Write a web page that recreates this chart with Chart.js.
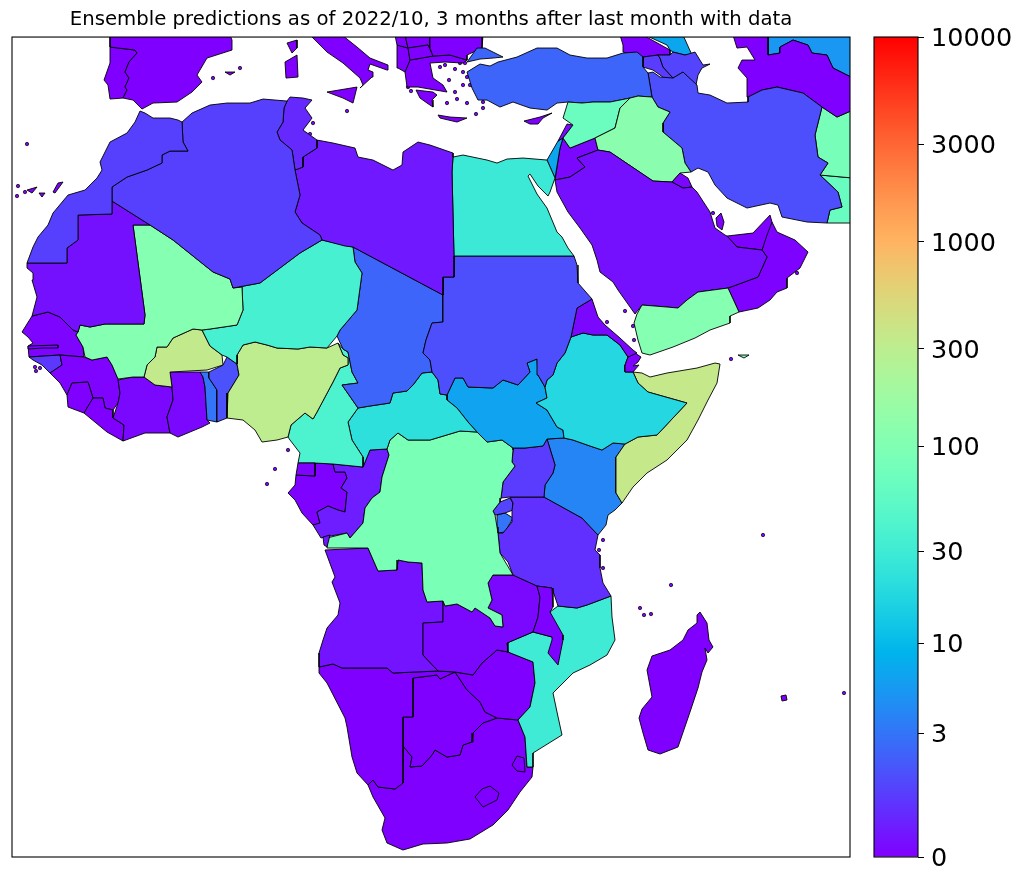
<!DOCTYPE html>
<html>
<head>
    <title>Ensemble predictions map</title>
    <script src="https://cdn.jsdelivr.net/npm/chart.js"></script>
    <style>
        html, body { margin: 0; padding: 0; background: #fff; }
        #mapChart { position: absolute; left: 0; top: 0; }
        #barChart { position: absolute; left: 862px; top: 0; }
    </style>
</head>
<body>
<canvas id="mapChart" width="862" height="885"></canvas>
<canvas id="barChart" width="162" height="885"></canvas>
<script>
// colour bar tick labels
const barTicks = [0, 3, 10, 30, 100, 300, 1000, 3000, 10000];

// country outlines, map units (about a degree each)
const morocco = [[-6.4,37.4],[-6.9,36.3],[-7.7,35.2],[-9.4,34.3],[-9.9,33.3],[-10.4,32.3],[-10.2,31.5],[-10.7,30.7],[-11.9,29.5],[-13.6,29],[-15.1,27.2],[-15.6,26],[-16.6,24.8],[-17.1,23.8],[-17.7,22.2],[-13.7,22.2],[-13.7,23.7],[-12.6,24.5],[-12.6,27],[-9.2,27.1],[-9.2,29.8],[-7.7,30.8],[-5.7,31.5],[-4.2,32.2],[-4.2,33],[-3.4,33.4],[-1.6,33.4],[-2.1,34.3],[-2.2,36.3],[-2.6,36.5],[-3.4,36.7],[-5.1,36.7],[-5.9,37.2],[-6.4,37.4]];
const algeria = [[-2.2,36.3],[-1.2,37.2],[.6,38],[2.3,38.2],[4.6,38.2],[5.9,38.6],[8.3,38.4],[8,37.7],[7.9,36.3],[7.3,35.3],[7.6,34.5],[8.8,33.5],[9.1,31.5],[9.6,29],[9.1,27.3],[9.8,26.2],[11.6,25],[11.8,24.5],[9.6,23.2],[5.6,20.2],[2.9,19.7],[2.6,20.6],[.9,21.3],[-3.1,24.5],[-5.4,26],[-9.2,28.4],[-9.2,29.8],[-7.7,30.8],[-5.7,31.5],[-4.2,32.2],[-4.2,33],[-3.4,33.4],[-1.6,33.4],[-2.1,34.3],[-2.2,36.3]];
const tunisia = [[8.3,38.4],[8.6,38.8],[9.9,38.7],[10.8,38.5],[10.1,37.7],[10.8,36.7],[9.9,35.5],[10.6,35],[11.3,34.5],[11.3,33.7],[9.9,32.8],[9.9,31.8],[9.1,31.5],[8.8,33.5],[7.6,34.5],[7.3,35.3],[7.9,36.3],[8,37.7],[8.3,38.4]];
const libya = [[11.3,34.5],[12.9,34.2],[15.1,33.7],[15.4,32.8],[16.9,32.5],[18.9,31.5],[19.8,32],[19.9,33.3],[21.4,34.3],[22.6,34],[24.9,33.2],[24.9,32.8],[24.8,31.3],[25,22.9],[25,20.8],[23.9,20.8],[23.9,19],[14.9,23.8],[14.1,23.9],[11.8,24.5],[11.6,25],[9.8,26.2],[9.1,27.3],[9.6,29],[9.1,31.5],[9.9,31.8],[9.9,32.8],[11.3,33.7],[11.3,34.5]];
const egypt = [[24.9,32.8],[25.9,33],[28.3,32.5],[29.3,32.2],[30.3,32.6],[31.9,32.7],[34.3,32.5],[35.1,30.7],[34.6,29.3],[34.4,28.9],[33.4,29.9],[32.6,31.1],[32.4,30.9],[33.3,29.1],[34.3,27.7],[35.3,25.3],[35.8,24.8],[36.4,23.7],[37,22.9],[25,22.9],[24.8,31.3],[24.9,32.8]];
const sudan = [[25,22.9],[37,22.9],[37.3,22],[37.4,20.2],[38.8,18.6],[37.3,17.7],[36.7,14.8],[36.1,13.2],[35.3,12.2],[34.9,11],[34.3,10.5],[34.1,9.8],[33.4,11],[33.3,12.6],[32.3,12.2],[32.6,11.3],[31.4,10],[29.9,10.5],[28.9,9.7],[26.4,9.8],[25.9,10.7],[25.1,10.7],[24.3,9],[23.6,9.1],[23.4,10.5],[22.8,11.3],[22.6,12.5],[21.9,13.2],[22.2,14.5],[22.8,16.2],[23.9,16.3],[23.9,20.8],[25,20.8],[25,22.9]];
const eritrea = [[38.8,18.6],[39.4,16.8],[40.1,16],[41.6,14.7],[42.9,13.5],[43.3,13.2],[42.4,12.8],[41.6,14],[40.3,15],[38.9,15],[37.9,15.2],[36.7,14.8],[37.3,17.7],[38.8,18.6]];
const djibouti = [[42.4,12.8],[43.1,13.2],[43.7,12.8],[43.4,12.3],[42.9,11.9],[43.5,12],[42.9,11.3],[42.1,11.3],[42.1,12],[42.4,12.8]];
const ethiopia = [[36.7,14.8],[37.9,15.2],[38.9,15],[40.3,15],[41.6,14],[42.4,12.8],[42.1,12],[42.1,11.3],[42.9,11.3],[43.4,10.2],[44.4,9.3],[48.3,8.2],[45.3,5],[43.4,4.8],[42.1,4.1],[40.9,4.2],[39.8,3.5],[38.6,3.9],[36.9,4.5],[36,4.7],[35.9,5.5],[35.3,5.8],[34.3,7.5],[33.2,8.2],[34.3,8.7],[34.1,9.8],[34.3,10.5],[34.9,11],[35.3,12.2],[36.1,13.2],[36.7,14.8]];
const somalia = [[42.9,11.3],[43.8,11.2],[44.6,10.8],[46.3,11.2],[49.3,11.7],[51.1,12.2],[51.6,12.1],[51.3,10.2],[50.4,8.5],[49.4,6.5],[48.3,4.5],[46.3,2.5],[44.3,1.2],[42.9,-.2],[41.8,-1.8],[41.2,-.8],[41.2,2.8],[42.1,4.1],[43.4,4.8],[45.3,5],[48.3,8.2],[44.4,9.3],[43.4,10.2],[42.9,11.3]];
const yemen = [[43.8,18],[46.3,17.8],[47.4,17.7],[48.3,18.5],[49.4,19.3],[52.4,19.7],[53.5,17.3],[52.6,16.9],[52.6,16.2],[50.6,15.5],[49.1,14.7],[46.9,13.8],[44.6,13],[43.8,13.2],[43.4,14.5],[43,16.2],[43.3,17.1],[43.8,18]];
const saudi = [[39.4,33.5],[40.6,33.3],[44.9,30.4],[46.8,30.3],[47.9,29.7],[48.8,29.8],[49.3,29.3],[50.6,27.3],[51.1,25.7],[52.1,25],[52.3,24.9],[53.3,23.8],[55.8,23.5],[56.3,22.8],[55.4,20.8],[52.4,19.7],[49.4,19.3],[48.3,18.5],[47.4,17.7],[46.3,17.8],[43.8,18],[43.1,17.1],[41.4,19.5],[40.9,20.3],[39.6,21.3],[39.3,22.5],[38.8,24],[37.6,25.7],[36.4,27.3],[35.3,29.3],[35.1,30.5],[36.6,30.8],[38.1,31.8],[37.3,32.7],[39.4,33.5]];
const uae = [[52.3,24.9],[54.9,25.2],[56.6,27],[56.8,26.3],[56.3,25],[55.9,23.8],[55.8,23.5],[53.3,23.8],[52.3,24.9]];
const oman = [[56.3,25.5],[56.8,26.3],[57.3,25.3],[59.1,24.5],[60.4,23.3],[59.6,21.7],[58.3,20.7],[58.3,19.7],[57.3,19.3],[56.6,18.5],[55.4,17.7],[53.5,17.3],[52.4,19.7],[55.4,20.8],[56.3,22.8],[55.8,23.5],[55.9,23.8],[56.3,25.5]];
const qatar = [[51.2,26.7],[51.7,27.2],[52,26.3],[51.8,25.5],[51.3,25.9],[51.2,26.7]];
const kuwait = [[46.8,30.3],[47.6,31.2],[48.4,30.7],[48.8,29.8],[47.9,29.7],[46.8,30.3]];
const iraq = [[39.1,34.7],[41.1,35.7],[41.6,37.7],[42.6,38.7],[43.4,38.9],[44.8,38.8],[45.4,37.8],[46.6,37.3],[45.9,36.2],[45.9,35.3],[47.8,33.7],[48.1,32.2],[48.7,31.3],[47.6,31.2],[46.8,30.3],[44.9,30.4],[40.6,33.3],[39.4,33.5],[39.1,34.7]];
const syria = [[36.4,38.3],[37.8,38.2],[38.9,38.3],[40.6,38.3],[42.6,38.7],[41.6,37.7],[41.1,35.7],[39.1,34.7],[36.6,33.7],[35.9,34.7],[36.9,36],[35.9,36.7],[36.4,38.3]];
const lebanon = [[36.3,36.1],[36.9,36],[35.9,34.7],[35.4,34.4],[36.3,36.1]];
const israel = [[34.3,32.5],[35.4,34.4],[35.9,34.7],[35.6,33.7],[35.1,30.7],[34.3,32.5]];
const jordan = [[35.9,34.7],[36.6,33.7],[39.1,34.7],[39.4,33.5],[37.3,32.7],[38.1,31.8],[36.6,30.8],[35.1,30.5],[35.6,33.7],[35.9,34.7]];
const anatolia = [[29.4,42.3],[31.3,42.8],[33.3,43.7],[35.3,43.7],[36.6,43],[38.3,42.7],[40.3,42.7],[41.9,43.2],[43.3,43.3],[43.9,42.8],[43.9,41.8],[44.4,41.2],[44.8,38.8],[43.4,38.9],[42.6,38.7],[40.6,38.3],[38.9,38.3],[37.8,38.2],[36.4,38.3],[35.3,38.2],[34.3,37.5],[32.6,37.7],[30.9,38.3],[29.6,37.8],[28.3,38.5],[27.4,38.5],[26.8,39.7],[26.3,41.3],[27.6,42.1],[28.6,41.9],[29.4,42.3]];
const thrace = [[26.3,42.3],[27.3,43.7],[28.1,43.7],[29.9,42.8],[28.9,42.7],[27.6,42.6],[26.3,42.3]];
const iran = [[44.4,41.2],[44.8,38.8],[45.4,37.8],[46.6,37.3],[45.9,36.2],[45.9,35.3],[47.8,33.7],[48.1,32.2],[48.7,31.3],[49.4,31.7],[50.4,31.3],[51.1,30],[52.3,28.7],[54.3,27.7],[56.6,28.2],[57.4,28],[57.8,26.8],[60.3,26.3],[62.3,26.2],[62.6,27.5],[63.8,27.8],[63.4,29.3],[61.6,31],[62.4,32.2],[61.4,32.8],[61.1,35],[61.8,37.8],[59.9,39.2],[57.3,39.8],[55.8,39.5],[54.4,38.8],[54.4,38.3],[52.3,38.2],[50.6,39],[49.4,39.2],[49.3,40],[47.9,41.3],[46.9,40.7],[45.6,40.8],[44.9,41.3],[44.4,41.2]];
const azerbaijan = [[45.4,43],[46.6,43],[46.9,43.3],[48.1,43],[49.1,43.3],[49.9,42],[50.6,42.1],[49.8,41.7],[49.4,41],[49.2,40],[47.9,41.3],[46.9,40.7],[45.9,41.8],[45.6,42.7],[45.4,43]];
const armenia = [[43.9,42.8],[45.4,43],[45.6,42.7],[45.9,41.8],[46.9,40.7],[46.3,40.5],[44.9,41.5],[43.9,41.8],[43.9,42.8]];
const georgia = [[41.6,45],[43.9,45],[46.6,43.5],[46.6,43],[45.4,43],[43.9,42.8],[41.9,43.3],[41.9,44],[41.6,45]];
const russia = [[44.1,45],[47.9,45],[48.8,43],[48.1,43],[46.9,43.3],[46.6,43.5],[46.3,44],[44.1,45]];
const turkmenistan = [[52.9,45],[56.4,45],[56.4,43],[57.6,43.2],[57.6,43.8],[58.9,44.5],[60.4,44],[60.8,43.2],[62.3,43],[62.9,41.7],[64.9,40.7],[64.9,37.5],[63.3,36.8],[61.8,37.8],[59.9,39.2],[57.3,39.8],[55.8,39.5],[54.4,38.8],[54.3,40.7],[53.4,41.7],[53.8,42.5],[55.1,42.5],[54.3,43.8],[53.3,43.7],[52.9,45]];
const kazakhstan = [[56.4,45],[64.9,45],[64.9,40.7],[62.9,41.7],[62.3,43],[60.8,43.2],[60.4,44],[58.9,44.5],[57.6,43.8],[57.6,43.2],[56.4,43],[56.4,45]];
const afghanistan = [[61.8,37.8],[63.3,36.8],[64.9,37.5],[64.9,30.7],[61.6,31],[62.4,32.2],[61.4,32.8],[61.1,35],[61.8,37.8]];
const pakistan = [[61.6,31],[64.9,30.7],[64.9,26.2],[62.3,26.2],[62.6,27.5],[63.8,27.8],[63.4,29.3],[61.6,31]];
const mauritania = [[-17.7,22.2],[-13.7,22.2],[-13.7,23.7],[-12.6,24.5],[-12.6,27],[-9.2,27.1],[-9.2,28.4],[-5.4,26],[-7.1,26],[-6.9,24.5],[-5.9,17],[-6,16.1],[-9.9,16.1],[-11.4,15.8],[-12.4,16],[-12.6,15.3],[-13.1,15.5],[-14.4,16.8],[-15.6,17.3],[-17.2,16.9],[-16.7,18.8],[-17.2,20.5],[-17.1,21.2],[-17.7,21.7],[-17.7,22.2]];
const mali = [[-7.1,26],[-5.4,26],[-3.1,24.5],[.9,21.3],[2.6,20.6],[2.9,19.7],[3.8,19.8],[3.9,17.5],[3.3,16],[.6,15.6],[-.2,15.5],[-1.1,15.6],[-3.1,14.7],[-3.7,13.8],[-4.7,13.8],[-4.9,12.8],[-5.7,12],[-6,10.8],[-7.1,10.8],[-8.6,10.6],[-9.2,12],[-9.7,12.8],[-11.2,12.5],[-11.9,12.8],[-12.1,13.8],[-12.8,15],[-12.6,15.3],[-12.4,16],[-11.4,15.8],[-9.9,16.1],[-6,16.1],[-5.9,17],[-6.9,24.5],[-7.1,26]];
const niger = [[11.8,24.5],[14.9,23.8],[15.1,22.3],[15.8,21.2],[15.3,17.5],[13.6,15.5],[13.3,14.9],[12.3,13.7],[10.6,13.8],[9.4,13.6],[7.3,13.7],[6.3,14],[5.1,14.3],[3.9,14],[3.3,13],[3.3,12.1],[2.3,12.8],[1.8,13],[.6,13.9],[-.2,15.5],[.6,15.6],[3.3,16],[3.9,17.5],[3.8,19.8],[2.9,19.7],[5.6,20.2],[9.6,23.2],[11.8,24.5]];
const nigeria = [[3.3,12.1],[3.5,11],[2.4,9.2],[2.3,6.7],[3.9,6.5],[5.1,5.5],[5.8,4.3],[7.3,4.5],[8.4,4.8],[8.7,6],[10.1,7.2],[10.9,6.6],[11.3,7.3],[12.1,8.8],[12.9,10.3],[13.6,11.7],[14.4,12],[14.4,12.7],[13.9,13],[13.4,14.2],[12.3,13.7],[10.6,13.8],[9.4,13.6],[7.3,13.7],[6.3,14],[5.1,14.3],[3.9,14],[3.3,13],[3.3,12.1]];
const chad = [[14.9,23.8],[23.9,19],[23.9,16.3],[22.8,16.2],[22.2,14.5],[21.9,13.2],[22.6,12.5],[22.8,11.3],[21.8,11.2],[20.9,10],[20.3,9.4],[18.9,9.2],[18.6,8.2],[16.6,7.9],[15.4,7.7],[13.8,10],[15.4,10.2],[14.8,11.3],[14.4,13.3],[13.9,13.6],[13.3,14.9],[13.6,15.5],[15.3,17.5],[15.8,21.2],[15.1,22.3],[14.9,23.8]];
const cameroon = [[13.4,14.2],[13.9,13.6],[14.4,13.3],[14.8,11.3],[15.4,10.2],[13.8,10],[15.4,7.7],[14.4,6.3],[14.8,4.5],[15.9,2.8],[15.9,1.8],[12.9,2.1],[11.1,2.2],[9.4,2.2],[9.6,3.2],[8.6,4.5],[8.4,4.8],[8.7,6],[10.1,7.2],[10.9,6.6],[11.3,7.3],[12.1,8.8],[12.9,10.3],[13.6,11.7],[14.4,12],[14.4,12.7],[13.9,13],[13.4,14.2]];
const car = [[15.4,7.7],[16.6,7.9],[18.6,8.2],[18.9,9.2],[20.3,9.4],[20.9,10],[21.8,11.2],[22.8,11.3],[23.4,10.5],[23.6,9.1],[24.3,9],[24.3,8.5],[25.3,7.7],[26.4,6.3],[27.3,5.3],[25.6,5.4],[22.6,4.5],[20.4,4.5],[19.4,5.2],[18.6,4.5],[18.3,3.6],[16.6,3.5],[15.9,1.8],[15.9,2.8],[14.8,4.5],[14.4,6.3],[15.4,7.7]];
const southSudan = [[24.3,9],[25.1,10.7],[25.9,10.7],[26.4,9.8],[28.9,9.7],[29.9,10.5],[31.4,10],[32.6,11.3],[32.3,12.2],[33.3,12.6],[33.4,11],[34.1,9.8],[34.3,8.7],[33.2,8.2],[34.3,7.5],[35.3,5.8],[35.9,5.5],[36,4.7],[34.3,4.6],[33.9,3.9],[32.1,3.7],[30.9,3.7],[29.8,4.5],[28.3,4.3],[27.3,5.3],[26.4,6.3],[25.3,7.7],[24.3,8.5],[24.3,9]];
const drc = [[18.3,3.6],[18.6,4.5],[19.4,5.2],[20.4,4.5],[22.6,4.5],[25.6,5.4],[27.3,5.3],[28.3,4.3],[29.8,4.5],[30.9,3.7],[30.9,3.5],[30.8,2.3],[31.1,1.9],[29.9,.3],[29.7,-1.3],[29.6,-1.7],[28.9,-2.6],[29.1,-3],[29.3,-4.2],[29.4,-4.8],[29.6,-6.8],[30.9,-9],[28.9,-9],[28.4,-9.8],[28.8,-11.5],[28.4,-12.3],[29.8,-13],[29.9,-14.2],[29.1,-14.1],[28.6,-13.3],[27.1,-12.3],[26.8,-12.7],[25.3,-11.9],[24.1,-12.1],[23.9,-11.6],[22.3,-11.7],[21.9,-10.5],[21.8,-7.8],[20.4,-7.7],[19.4,-7.5],[19.3,-8.5],[17.4,-8.6],[16.4,-6.3],[12.3,-6.3],[12.3,-5.3],[14.3,-4.8],[14.6,-5.3],[15.9,-3.8],[16.1,-2.3],[16.8,-1.3],[17.6,-.7],[17.8,.8],[18.5,3],[18.3,3.6]];
const congo = [[15.9,1.8],[16.6,3.5],[18.3,3.6],[18.5,3],[17.8,.8],[17.6,-.7],[16.8,-1.3],[16.1,-2.3],[15.9,-3.8],[14.6,-5.3],[14.3,-4.8],[12.1,-5.2],[11.7,-5.3],[10.9,-4],[11.6,-3.8],[11.3,-2.7],[12.4,-2.1],[13.4,-2.5],[14.1,-2.7],[14.3,-.7],[13.7,-.3],[14.3,.7],[14.1,1.3],[13.1,1.3],[12.9,2.1],[15.9,1.8]];
const cabinda = [[11.9,-5.2],[12.6,-5],[12.3,-6.2],[12,-6],[11.9,-5.2]];
const gabon = [[9.2,1],[11.1,.9],[11.1,2.2],[12.9,2.1],[13.1,1.3],[14.1,1.3],[14.3,.7],[13.7,-.3],[14.3,-.7],[14.1,-2.7],[13.4,-2.5],[12.4,-2.1],[11.3,-2.7],[11.6,-3.8],[10.9,-4],[9.8,-2.8],[9.1,-1.5],[8.4,-.8],[9.1,0],[9.2,1]];
const eqGuinea = [[9.2,1],[9.4,2.2],[11.1,2.2],[11.1,.9],[9.2,1]];
const burkina = [[-1.1,15.6],[-.2,15.5],[.6,13.9],[1.8,13],[1.9,12],[.3,11.5],[-3.4,11.3],[-3.2,9.8],[-4.9,10],[-6,10.8],[-5.7,12],[-4.9,12.8],[-4.7,13.8],[-3.7,13.8],[-3.1,14.7],[-1.1,15.6]];
const benin = [[.5,11.3],[1.9,12],[2.3,12.8],[3.3,12.1],[3.5,11],[2.4,9.2],[2.3,6.7],[1.3,6.3],[1.3,9.5],[.5,10.7],[.5,11.3]];
const togo = [[-.4,11.3],[.5,11.3],[.5,10.7],[1.3,9.5],[1.3,6.3],[.3,6.5],[.1,9.8],[-.1,10.8],[-.4,11.3]];
const ghana = [[-3.4,11.3],[-.4,11.3],[-.1,10.8],[.1,9.8],[.3,6.5],[.6,6.2],[-.2,5.8],[-2.6,4.8],[-3.4,5.2],[-3.7,6.8],[-3.1,8.5],[-3.2,9.8],[-3.4,11.3]];
const ivory = [[-8.6,10.5],[-7.1,10.8],[-6,10.8],[-4.9,10],[-3.2,9.8],[-3.1,8.5],[-3.7,6.8],[-3.4,5.2],[-5.9,5.2],[-8.1,4.4],[-8,6],[-9.1,6.7],[-8.6,8.2],[-8.4,9.2],[-8.6,10.5]];
const liberia = [[-12,7.2],[-11.1,8.7],[-10.1,8.7],[-9.9,7.7],[-9.1,7.5],[-9.1,6.7],[-8,6],[-8.1,4.4],[-9.7,5.3],[-11.4,6.7],[-12,7.2]];
const sierraLeone = [[-13.7,9],[-13.2,10.2],[-11.6,10.3],[-11.1,8.7],[-12,7.2],[-13.6,7.8],[-13.7,9]];
const guinea = [[-14.4,13],[-12,12.8],[-11.2,12.5],[-9.7,12.8],[-9.2,12],[-8.6,10.6],[-8.4,9.2],[-8.6,8.2],[-9.1,7.5],[-9.9,7.7],[-10.1,8.7],[-11.1,8.7],[-11.6,10.3],[-13.2,10.2],[-13.7,9],[-14.4,10.2],[-15.4,11.2],[-14.2,12],[-14.4,13]];
const bissau = [[-17.5,12.8],[-14.4,13],[-14.2,12],[-15.4,11.2],[-16.2,12],[-17.1,12.5],[-17.5,12.8]];
const senegal = [[-18.2,15.3],[-17.2,16.9],[-15.6,17.3],[-14.4,16.8],[-13.1,15.5],[-12.6,15.3],[-12.8,15],[-12.1,13.8],[-12,12.8],[-14.4,13],[-17.5,12.8],[-17.6,13.9],[-17.1,14.2],[-17.6,14.8],[-18.2,15.3]];
const gambia = [[-17.6,13.9],[-14.6,14],[-14.6,13.7],[-16.1,13.7],[-17.6,13.6],[-17.6,13.9]];
const uganda = [[30.9,3.7],[32.1,3.7],[33.9,3.9],[34.3,4.6],[35.1,2],[34.9,1.2],[34.1,0],[34,-1.2],[30.6,-1.2],[29.7,-1.3],[29.9,.3],[31.1,1.9],[30.8,2.3],[30.9,3.5],[30.9,3.7]];
const kenya = [[34.3,4.6],[36,4.7],[36.9,4.5],[38.6,3.9],[39.8,3.5],[40.9,4.2],[42.1,4.1],[41.2,2.8],[41.2,-.8],[41.8,-1.8],[41.1,-2.5],[40.4,-3],[40.2,-4],[39.4,-5],[37.8,-3.3],[34,-1.2],[34.1,0],[34.9,1.2],[35.1,2],[34.3,4.6]];
const tanzania = [[30.6,-1.2],[34,-1.2],[37.8,-3.3],[39.4,-5],[39.1,-6.5],[39.6,-7],[39.6,-8.3],[39.9,-9.8],[40.7,-11.1],[38.3,-12],[37.3,-12.3],[35.4,-12.1],[34.8,-10.3],[33.3,-10.1],[30.9,-9],[30.4,-7.7],[29.6,-6.8],[29.4,-4.8],[29.9,-4.8],[30.8,-3.7],[30.8,-2.5],[30.9,-1.8],[30.6,-1.2]];
const rwanda = [[29.6,-1.7],[30.6,-1.3],[30.9,-1.8],[30.9,-2.5],[30.1,-2.8],[29.1,-3],[28.9,-2.6],[29.6,-1.7]];
const burundi = [[29.3,-3],[30.1,-2.8],[30.9,-3.3],[30.1,-4.7],[29.4,-4.8],[29.3,-3]];
const zambia = [[28.9,-9],[30.9,-9],[33.3,-10.1],[33.6,-11.2],[33.4,-13.2],[32.9,-14.7],[30.3,-15.8],[30.4,-16.7],[29.3,-16.5],[27.8,-17.8],[26.9,-19],[25.1,-18.7],[23.4,-18.6],[21.9,-17],[21.9,-13.8],[23.9,-13.7],[23.9,-11.6],[24.1,-12.1],[25.3,-11.9],[26.8,-12.7],[27.1,-12.3],[28.6,-13.3],[29.1,-14.1],[29.9,-14.2],[29.8,-13],[28.4,-12.3],[28.8,-11.5],[28.4,-9.8],[28.9,-9]];
const malawi = [[33.3,-10.1],[34.8,-10.3],[34.9,-12.2],[34.6,-12.7],[35.9,-15],[35.9,-15.5],[35.4,-18],[34.4,-16.8],[34.8,-15.5],[34.8,-15.2],[32.9,-14.7],[33.4,-13.2],[33.6,-11.2],[33.3,-10.1]];
const mozambique = [[34.6,-12.7],[35.4,-12.1],[37.3,-12.3],[38.3,-12],[40.7,-11.1],[40.8,-13.2],[41.1,-15.5],[40.3,-17],[38.6,-18],[36.9,-18.8],[34.9,-20.8],[35.3,-22.7],[35.8,-25],[32.9,-26.8],[32.9,-28.2],[32.3,-28.2],[32.1,-25.2],[31.4,-23.5],[32.6,-22.2],[33.1,-19.8],[32.9,-17.7],[30.4,-16.7],[30.3,-15.8],[32.9,-14.7],[34.8,-15.2],[34.6,-12.7]];
const zimbabwe = [[32.9,-17.7],[30.4,-16.7],[29.3,-16.5],[27.8,-17.8],[26.9,-19],[25.1,-18.7],[26.3,-20.5],[27.6,-21.7],[28.1,-22.7],[29.3,-23.3],[31.4,-23.5],[32.6,-22.2],[33.1,-19.8],[32.9,-17.7]];
const angola = [[12.1,-6.5],[13.1,-9.2],[12.8,-9.7],[13.6,-11.8],[13.4,-13],[12.3,-14.3],[11.9,-15.5],[11.5,-16.8],[11.5,-18.2],[12.9,-17.9],[13.8,-18.3],[18.3,-18.3],[18.9,-18.8],[23.4,-18.6],[21.9,-17],[21.9,-13.8],[23.9,-13.7],[23.9,-11.6],[22.3,-11.7],[21.9,-10.5],[21.8,-7.8],[20.4,-7.7],[19.4,-7.5],[19.3,-8.5],[17.4,-8.6],[16.4,-6.3],[12.1,-6.5]];
const namibia = [[11.5,-18.2],[12.9,-17.9],[13.8,-18.3],[18.3,-18.3],[18.9,-18.8],[23.4,-18.6],[25.1,-18.7],[23.6,-19.4],[23.3,-19],[20.9,-19.3],[20.9,-23.2],[19.9,-23.2],[19.9,-29.8],[19.1,-30.4],[17.4,-30.2],[16.9,-29.5],[16.4,-30],[15.3,-28.8],[14.8,-27.2],[14.3,-24.2],[14.1,-23.3],[12.3,-19.8],[11.5,-18.8],[11.5,-18.2]];
const botswana = [[20.9,-19.3],[23.3,-19],[23.6,-19.4],[25.1,-18.7],[26.3,-20.5],[27.6,-21.7],[28.1,-22.7],[29.3,-23.3],[27.9,-23.8],[26.9,-24.8],[26.8,-25.7],[25.9,-26],[25.6,-27],[24.3,-27.2],[23.1,-26.5],[22.8,-27],[21.8,-28.1],[20.6,-28.2],[20.8,-27.2],[19.9,-26.1],[19.9,-23.2],[20.9,-23.2],[20.9,-19.3]];
const southAfrica = [[16.4,-30],[16.9,-29.5],[17.4,-30.2],[19.1,-30.4],[19.9,-29.8],[19.9,-26.1],[20.8,-27.2],[20.6,-28.2],[21.8,-28.1],[22.8,-27],[23.1,-26.5],[24.3,-27.2],[25.6,-27],[25.9,-26],[26.8,-25.7],[26.9,-24.8],[27.9,-23.8],[29.3,-23.3],[31.4,-23.5],[32.1,-25.2],[32.3,-28.2],[32.9,-28.2],[32.8,-29.2],[31.6,-30.7],[30.4,-32.5],[28.9,-34],[26.6,-35.4],[24.3,-35.8],[21.9,-35.9],[19.9,-36.5],[18.3,-35.8],[17.8,-34.5],[18.1,-33.3],[16.9,-31.2],[16.4,-30]];
const swaziland = [[31.3,-27.1],[32,-27.3],[32.1,-28.7],[31.3,-28.6],[30.8,-28],[31.3,-27.1]];
const lesotho = [[28.6,-30.1],[29.5,-30.8],[29.3,-31.5],[27.9,-32.2],[27.1,-31.2],[27.8,-30.4],[28.6,-30.1]];
const madagascar = [[49.6,-12.7],[50.3,-13.8],[50.5,-15.5],[50.9,-16.2],[50.4,-16.8],[50.1,-16.3],[50.3,-17.5],[49.8,-18.7],[49.4,-20.3],[48.6,-22.7],[47.4,-26.2],[45.6,-26.9],[44.4,-26.5],[43.9,-24.8],[43.5,-23.3],[43.8,-22.4],[44.8,-21.2],[44.3,-18.5],[44.8,-17.1],[46.6,-16.5],[47.9,-15.5],[48.4,-14.5],[49.3,-13.8],[49.3,-13],[49.6,-12.7]];
const socotra = [[53.4,13],[54.5,13],[54,12.7],[53.4,13]];
const spain = [[-9.4,45],[-9.4,43.8],[-6.9,43.5],[-6.7,43.2],[-7.5,42.3],[-7.9,41.3],[-7.5,40.7],[-7.9,39.8],[-7.7,39.5],[-8.1,38.7],[-7.1,38.5],[-6.2,37.6],[-5.1,38.2],[-2.7,38.3],[-1.2,39.3],[-.2,40.3],[-.7,41],[.3,42.7],[2.8,43.5],[2.8,44.5],[2.6,45],[-9.4,45]];
const portugal = [[-9.4,43.8],[-6.9,43.5],[-6.7,43.2],[-7.5,42.3],[-7.9,41.3],[-7.5,40.7],[-7.9,39.8],[-7.7,39.5],[-8.1,38.7],[-9.4,38.6],[-9.6,40],[-10,40.5],[-9.4,42.2],[-9.4,43.8]];
const france = [[-1.2,45],[-1.2,44.7],[1.1,44.5],[2.6,44.3],[2.6,45],[-1.2,45]];
const corsica = [[8.3,44.2],[9.3,44.5],[9.3,43.7],[8.8,43.2],[8.3,44.2]];
const sardinia = [[8.1,42.3],[9.3,43],[9.4,40.8],[8.2,40.7],[8.1,42.3]];
const italy = [[10.6,45],[12.3,43.3],[13.9,42.2],[15.6,40.7],[15.9,40],[15.6,39.7],[16.8,40.8],[16.9,41.3],[16.4,41.5],[16.6,42.1],[18.3,41.5],[18.4,42],[16.6,42.7],[15.3,43.8],[13.8,45],[10.6,45]];
const sicily = [[12.3,39.3],[15.3,39.8],[14.9,38.2],[13.9,38.7],[12.3,39.3]];
const mallorca = [[2.1,41.3],[3.1,41.3],[2.6,41],[2.1,41.3]];
const bulgaria = [[22.6,45],[27.9,45],[27.8,43.7],[26.3,43],[26.3,42.5],[24.6,43],[22.9,42.9],[22.6,43.7],[22.6,45]];
const macedonia = [[20.4,43.7],[22.4,44],[22.9,42.9],[20.6,42.5],[20.4,43.7]];
const serbia = [[20.1,45],[22.6,45],[22.6,43.7],[22.4,44],[20.4,43.7],[20.1,45]];
const bosnia = [[19.1,45],[20.1,45],[20.4,43.7],[19.3,44],[19.1,45]];
const albania = [[19.3,44],[20.4,43.7],[20.6,42.5],[20.1,41.3],[19.4,41.7],[19.3,44]];
const greece = [[20.6,42.5],[22.9,42.9],[24.6,43],[26.3,42.5],[25.9,42.2],[24.1,42.3],[22.6,42.2],[22.9,40.7],[23.9,40],[24.3,39.3],[21.4,39.8],[20.3,39.8],[20.1,41.3],[20.6,42.5]];
const peloponnese = [[21.2,39.5],[22.9,39.3],[23.3,39],[22.8,38.5],[22.9,37.8],[22.3,38.2],[21.6,38.7],[21.2,39.5]];
const crete = [[23.4,37],[24.6,36.8],[26.3,36.7],[25.3,36.3],[23.6,36.7],[23.4,37]];
const cyprus = [[32,36.4],[33.6,36.8],[34.8,37.2],[33.9,36.7],[33.4,36.1],[32.6,36.1],[32,36.4]];
const reunion = [[57.7,-21.1],[58.2,-21],[58.3,-21.5],[57.8,-21.6],[57.7,-21.1]];
const fuerteventura = [[-14.9,29.2],[-14.1,30.3],[-14.6,30.2],[-15.1,29.3],[-14.9,29.2]];
const tenerife = [[-17.7,29.5],[-16.7,29.8],[-17.2,29.2],[-17.7,29.5]];
const granCanaria = [[-16.5,29.2],[-15.9,29.2],[-16.2,28.8],[-16.5,29.2]];

// small islands, too small for an outline
const islands = [[23.6,41.8],[24.1,42],[24.6,42.5],[25.1,41.6],[25.6,42.2],[26.1,42.2],[25.9,41.3],[26.3,40.8],[24.5,40.5],[25.9,40],[26.6,40],[25.1,39.3],[25.3,38.6],[24.3,38.2],[26.3,38.2],[27.9,38.3],[27.9,37.7],[27.2,37.1],[20.4,39.8],[20.7,39.4],[14.3,37.4],[10.9,36.2],[10.6,35.1],[-18.6,29.9],[-17.9,29.3],[-18.7,28.9],[-17.7,34.1],[.9,40.7],[3.6,41.7],[-16.9,11.8],[-16.4,11.7],[-16.8,11.4],[8.4,3.5],[7.1,1.6],[6.3,.1],[43.6,-12.3],[44,-13],[44.7,-12.9],[64,-20.8],[39.9,-5.5],[39.5,-6.5],[39.9,-8.3],[46.7,-10],[55.9,-5],[52.7,12.6],[42.1,17.4],[40.3,16.3],[42.9,15.9],[43,14.5],[59.3,21.2],[50.9,27.2],[49.4,32.1]];

// first one drawn last, so small countries sit on top
const outlines = [gambia, swaziland, lesotho, malawi, cabinda, eqGuinea, socotra, morocco, algeria, tunisia, libya, egypt, sudan, eritrea, djibouti, ethiopia, somalia, yemen, saudi, uae, oman, qatar, kuwait, iraq, syria, lebanon, israel, jordan, anatolia, thrace, iran, azerbaijan, armenia, georgia, russia, turkmenistan, kazakhstan, afghanistan, pakistan, mauritania, mali, niger, nigeria, chad, cameroon, car, southSudan, drc, congo, gabon, burkina, benin, togo, ghana, ivory, liberia, sierraLeone, guinea, bissau, senegal, uganda, kenya, tanzania, rwanda, burundi, zambia, mozambique, zimbabwe, angola, namibia, botswana, southAfrica, madagascar, spain, portugal, france, corsica, sardinia, italy, sicily, mallorca, bulgaria, macedonia, serbia, bosnia, albania, greece, peloponnese, crete, cyprus, reunion, fuerteventura, tenerife, granCanaria];
// predicted value per country, same order, estimated from the colour
const values = [0.05, 0, 0, 0.02, 0.3, 0.03, 90, 1.1, 1.1, 0.6, 0.32, 28, 1.5, 0.1, 0.02, 18, 350, 110, 0.2, 0.02, 0.02, 0.02, 0.1, 120, 68, 0.1, 7, 0.1, 2.3, 2.3, 1.5, 1.2, 1.0, 0.02, 7, 0, 5.3, 85, 65, 0.2, 110, 35, 300, 2.3, 39, 22, 6.6, 90, 0.4, 0.02, 330, 1.6, 3, 0.1, 0.1, 0, 0, 0.03, 0.9, 0.05, 1, 4, 0.74, 1.2, 3, 0.1, 30, 0, 0.25, 0, 0, 0, 0, 0, 0, 0, 0, 0, 0, 0, 0, 0, 0, 0, 0, 0, 0, 0, 0, 0, 0, 0, 0, 0];

// matplotlib rainbow colormap
function rainbow(t) {
    const r = Math.abs(2 * t - 0.5);
    const g = Math.sin(Math.PI * t);
    const b = Math.cos(Math.PI * t / 2);
    return 'rgb(' + Math.round(r * 255) + ',' + Math.round(g * 255) + ',' + Math.round(b * 255) + ')';
}

const logMax = Math.log10(barTicks[barTicks.length - 1] + 1);
function logPos(v) {
    return Math.log10(v + 1);
}
function valueColor(v) {
    return rainbow(logPos(v) / logMax);
}

// black box drawn over the datasets
const frame = {
    id: 'frame',
    afterDatasetsDraw(chart) {
        const a = chart.chartArea;
        const ctx = chart.ctx;
        ctx.save();
        ctx.strokeStyle = '#000';
        ctx.lineWidth = 1.1;
        ctx.strokeRect(a.left, a.top, a.right - a.left, a.bottom - a.top);
        ctx.restore();
    }
};

const mapDatasets = outlines.map((shape, i) => ({
    data: shape,
    showLine: true,
    fill: 'shape',
    tension: 0,
    clip: 0,
    pointRadius: 0,
    borderWidth: 0.9,
    borderColor: '#000',
    backgroundColor: valueColor(values[i])
}));
mapDatasets.push({
    data: islands,
    showLine: false,
    pointRadius: 1.7,
    pointBorderWidth: 0.7,
    pointBorderColor: '#000',
    pointBackgroundColor: valueColor(0)
});

new Chart(document.getElementById('mapChart').getContext('2d'), {
    type: 'scatter',
    data: { datasets: mapDatasets },
    plugins: [frame],
    options: {
        responsive: false,
        animation: false,
        devicePixelRatio: 1,
        layout: { padding: { left: 12, right: 12, bottom: 28 } },
        scales: {
            x: { type: 'linear', display: false, min: -19.2, max: 64.6 },
            y: { type: 'linear', display: false, min: -37.2, max: 44.8 }
        },
        plugins: {
            legend: { display: false },
            tooltip: { enabled: false },
            title: {
                display: true,
                text: 'Ensemble predictions as of 2022/10, 3 months after last month with data',
                color: '#000',
                font: { family: 'DejaVu Sans', size: 19.7, weight: 'normal', lineHeight: 1.2 },
                padding: { top: 8, bottom: 5.4 }
            }
        }
    }
});

new Chart(document.getElementById('barChart').getContext('2d'), {
    type: 'bar',
    data: {
        labels: ['scale'],
        datasets: [{
            data: [[0, logMax]],
            barPercentage: 1,
            categoryPercentage: 1,
            backgroundColor(ctx) {
                const area = ctx.chart.chartArea;
                if (!area) return '#8000ff';
                const grad = ctx.chart.ctx.createLinearGradient(0, area.bottom, 0, area.top);
                for (let i = 0; i <= 32; i++) {
                    grad.addColorStop(i / 32, rainbow(i / 32));
                }
                return grad;
            }
        }]
    },
    plugins: [frame],
    options: {
        responsive: false,
        animation: false,
        devicePixelRatio: 1,
        layout: { padding: { left: 12, top: 37, bottom: 28 } },
        scales: {
            x: { display: false },
            y: {
                position: 'right',
                min: 0,
                max: logMax,
                grid: { display: true, drawOnChartArea: false, drawTicks: true, tickLength: 6, color: '#000', lineWidth: 1 },
                border: { display: false },
                afterFit(scale) { scale.width = 106; },
                afterBuildTicks(scale) {
                    scale.ticks = barTicks.map(v => ({ value: logPos(v) }));
                },
                ticks: {
                    autoSkip: false,
                    maxRotation: 0,
                    padding: 7,
                    color: '#000',
                    font: { family: 'DejaVu Sans', size: 25.5, lineHeight: 0.16 },
                    // blank first line pushes the digits down a touch, to sit level with the tick
                    callback(value, index) { return ['', String(barTicks[index])]; }
                }
            }
        },
        plugins: {
            legend: { display: false },
            tooltip: { enabled: false },
            title: { display: false }
        }
    }
});
</script>
</body>
</html>
